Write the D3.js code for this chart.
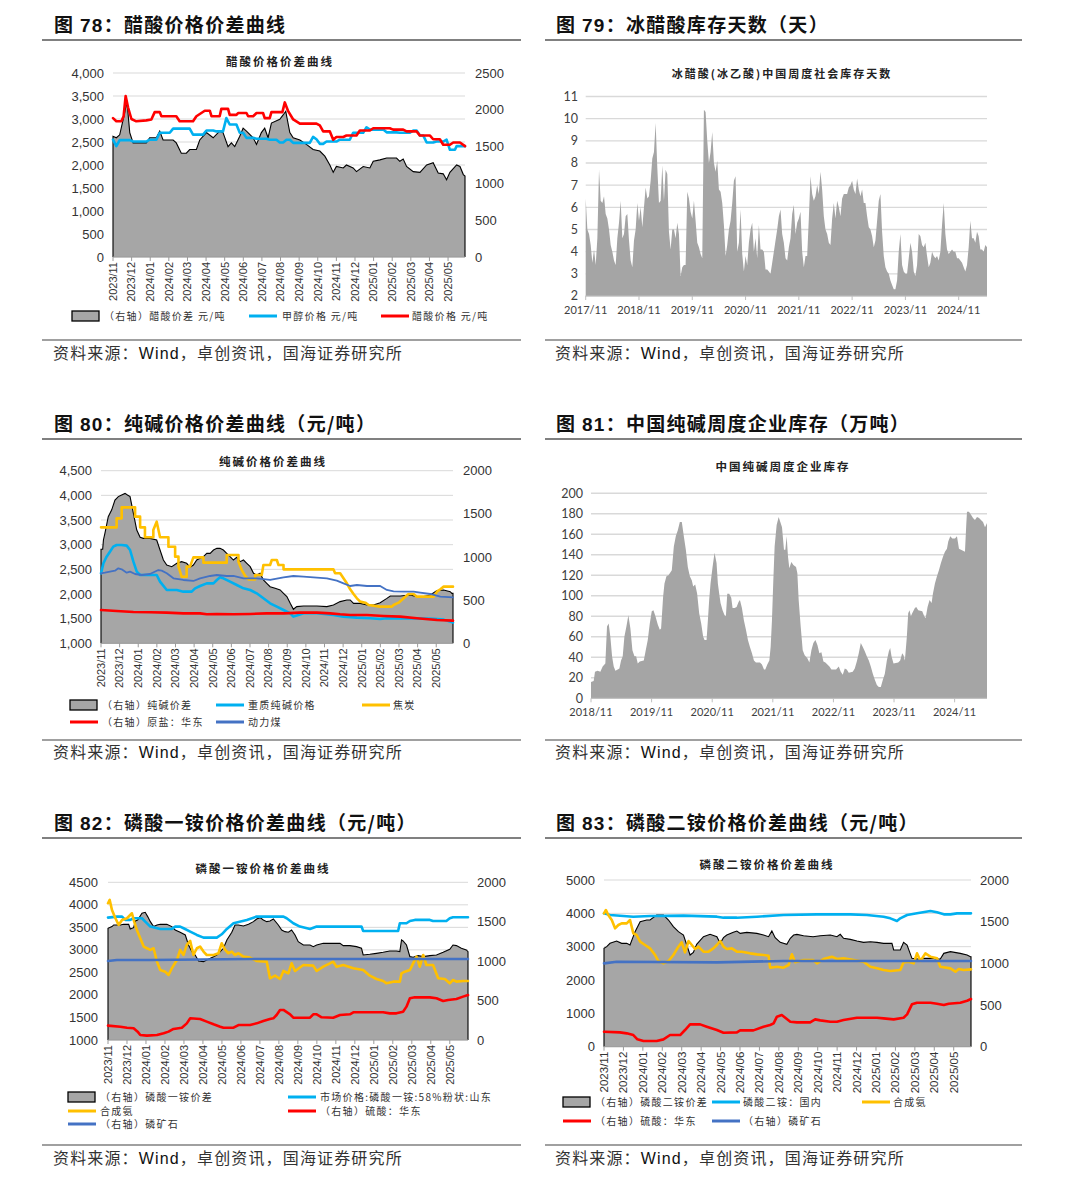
<!DOCTYPE html>
<html><head><meta charset="utf-8">
<script src="https://cdn.jsdelivr.net/npm/d3@7"></script>
<style>body{margin:0;background:#fff;} svg{display:block;}</style>
</head><body>
<script>
// ---------------- DATA ----------------
const monthLabels = ["2023/11","2023/12","2024/01","2024/02","2024/03","2024/04","2024/05","2024/06","2024/07","2024/08","2024/09","2024/10","2024/11","2024/12","2025/01","2025/02","2025/03","2025/04","2025/05"];

// Fig 78 (x = months since 2023/11)
const spread78 = [[0,1640],[0.18,1620],[0.36,1660],[0.63,1960],[0.75,2115],[0.9,1690],[1.08,1550],[1.79,1550],[1.97,1620],[2.33,1620],[2.51,1710],[2.69,1590],[3.23,1590],[3.4,1550],[3.67,1410],[3.94,1410],[4.12,1460],[4.48,1460],[4.66,1590],[5.02,1690],[5.38,1620],[5.73,1710],[5.91,1690],[6.18,1500],[6.36,1550],[6.54,1500],[6.81,1640],[6.99,1750],[7.17,1710],[7.53,1620],[7.71,1530],[7.97,1690],[8.15,1750],[8.33,1620],[8.51,1820],[8.96,1870],[9.14,1930],[9.28,1980],[9.5,1690],[9.68,1620],[10.04,1590],[10.39,1530],[10.75,1460],[11.11,1440],[11.38,1370],[11.65,1250],[11.83,1150],[12.0,1230],[12.37,1210],[12.54,1250],[12.9,1210],[13.08,1160],[13.44,1230],[13.8,1210],[13.98,1300],[14.34,1320],[14.7,1345],[15.23,1345],[15.41,1300],[15.59,1330],[15.77,1230],[16.13,1160],[16.49,1150],[16.85,1250],[17.2,1280],[17.47,1140],[17.74,1130],[17.92,1050],[18.1,1150],[18.46,1250],[18.64,1230],[18.82,1120],[18.91,1100]];
const methanol78 = [[0,2550],[0.18,2410],[0.36,2540],[0.9,2540],[1.08,2510],[1.79,2510],[1.97,2550],[2.33,2550],[2.51,2700],[3.05,2700],[3.23,2790],[4.12,2790],[4.3,2660],[4.84,2660],[5.02,2750],[5.38,2750],[5.56,2730],[5.91,2730],[6.09,3020],[6.27,2880],[6.63,2880],[6.81,2700],[6.99,2700],[7.17,2590],[7.53,2590],[7.71,2570],[8.24,2570],[8.42,2550],[8.78,2550],[8.96,2490],[9.14,2490],[9.32,2550],[9.5,2550],[9.68,2480],[10.57,2480],[10.75,2610],[10.93,2560],[11.11,2460],[11.29,2460],[11.47,2510],[12.0,2510],[12.19,2550],[12.72,2550],[12.9,2700],[13.44,2700],[13.62,2820],[13.8,2770],[14.52,2770],[14.7,2710],[15.23,2710],[15.41,2700],[15.95,2700],[16.13,2750],[16.31,2750],[16.49,2640],[16.67,2640],[16.85,2490],[17.2,2490],[17.38,2510],[17.74,2510],[17.92,2550],[18.1,2330],[18.37,2330],[18.46,2410],[18.91,2410]];
const acetic78 = [[0,3020],[0.18,2950],[0.45,2950],[0.57,3060],[0.68,3500],[0.81,3250],[0.99,3000],[1.25,2950],[1.79,2970],[2.06,2990],[2.24,3150],[2.51,3150],[2.6,3060],[3.4,3060],[3.58,2950],[4.3,2950],[4.48,3060],[4.93,3180],[5.2,3180],[5.29,3060],[5.73,3060],[5.82,3220],[6.18,3220],[6.27,3090],[6.63,3090],[6.72,3130],[7.17,3130],[7.26,3060],[7.53,3060],[7.71,3130],[8.06,3130],[8.15,3020],[8.42,3020],[8.51,3150],[9.1,3150],[9.23,3360],[9.41,3170],[9.68,2990],[10.04,2900],[10.93,2900],[11.11,2860],[11.29,2730],[11.65,2730],[11.83,2550],[12.0,2610],[12.37,2610],[12.54,2640],[13.08,2640],[13.26,2750],[13.8,2750],[13.98,2800],[14.87,2800],[15.05,2770],[15.59,2770],[15.77,2730],[16.31,2730],[16.49,2640],[17.03,2640],[17.2,2560],[17.56,2560],[17.74,2440],[18.1,2440],[18.28,2490],[18.64,2490],[18.91,2410]];
const ticks78L = [0,500,1000,1500,2000,2500,3000,3500,4000];
const ticks78R = [0,500,1000,1500,2000,2500];

// Fig 79 (samples every 0.375 month from 2017/11)
const yearLabels79 = ["2017/11","2018/11","2019/11","2020/11","2021/11","2022/11","2023/11","2024/11"];
const step79 = 0.375;
const days79 = [6.4,5.0,4.8,4.3,3.5,4.1,3.4,4.6,7.7,6.3,
6.2,6.5,5.7,5.5,5.0,4.3,4.0,3.6,3.4,4.6,
5.3,6.3,4.6,4.8,5.6,5.7,4.5,3.6,3.3,4.5,
5.0,6.2,5.4,6.0,5.1,6.0,6.9,6.4,6.5,7.2,
8.2,8.5,9.8,7.8,6.2,6.3,7.9,6.3,7.7,7.5,
4.9,4.1,5.0,5.0,4.6,5.3,4.8,2.9,3.3,3.4,
3.4,6.7,6.4,5.8,5.5,6.3,5.4,4.4,4.2,3.9,
3.7,10.4,10.3,9.0,8.0,8.5,9.4,8.0,7.6,8.1,
6.8,6.7,6.2,5.2,3.8,4.3,5.0,5.4,6.2,7.2,
7.4,4.0,4.4,5.9,3.9,3.1,3.8,3.4,4.4,5.0,
5.3,4.0,4.6,3.7,5.2,4.1,4.1,4.0,3.2,3.2,
3.1,3.0,3.5,4.0,4.5,5.0,5.6,5.9,4.8,4.4,
3.7,3.6,4.2,4.6,5.7,6.1,4.8,5.3,5.5,5.8,
4.0,3.3,3.8,3.8,5.5,7.4,6.6,6.3,6.5,7.0,
6.6,7.6,6.8,5.6,5.0,4.8,4.4,4.3,5.5,6.2,
5.5,6.3,6.0,5.6,6.4,6.6,6.6,6.6,6.9,7.0,
7.2,6.8,6.6,7.3,6.8,6.5,6.8,6.2,6.2,5.6,
5.1,5.0,4.7,4.2,4.5,5.4,6.3,6.6,4.9,3.8,
3.3,3.1,3.0,2.7,2.5,2.3,2.3,2.7,4.0,4.8,
3.4,3.1,3.0,3.0,3.7,4.4,4.0,3.1,2.9,3.4,
4.8,4.7,4.3,4.2,4.4,3.8,3.3,3.5,4.0,3.8,
3.7,3.8,3.6,4.0,5.2,6.2,4.8,4.1,3.9,4.0,
4.1,4.0,4.0,3.7,3.7,3.6,3.5,3.3,3.1,3.4,
4.2,5.4,4.6,4.6,4.4,4.9,4.7,4.1,4.1,4.0,4.3,4.2];
const ticks79 = [2,3,4,5,6,7,8,9,10,11];

// Fig 80
const spread80 = [[0,0],[0,1090],[0.09,1090],[0.13,1197],[0.21,1274],[0.39,1467],[0.57,1544],[0.75,1660],[0.93,1700],[1.11,1718],[1.29,1737],[1.42,1718],[1.56,1700],[1.74,1506],[1.92,1313],[2.1,1228],[2.27,1216],[2.63,1216],[2.99,1197],[3.17,1081],[3.35,965],[3.53,907],[3.8,888],[4.07,927],[4.33,946],[4.6,927],[4.78,880],[4.96,907],[5.14,965],[5.32,985],[5.5,1004],[5.68,1042],[5.86,1042],[6.04,1081],[6.22,1100],[6.39,1100],[6.57,1081],[6.75,1042],[6.93,1004],[7.11,965],[7.29,996],[7.47,946],[7.65,965],[7.83,927],[8.01,888],[8.19,811],[8.36,792],[8.54,811],[8.72,734],[8.9,695],[9.08,656],[9.35,637],[9.62,618],[9.8,579],[9.98,541],[10.16,463],[10.33,394],[10.51,425],[10.87,432],[11.59,432],[12.13,425],[12.48,444],[12.84,483],[13.2,502],[13.38,502],[13.56,463],[13.92,463],[14.28,444],[14.63,444],[14.99,471],[15.35,521],[15.53,548],[16.07,548],[16.6,560],[16.96,541],[17.32,541],[17.68,560],[18.04,610],[18.4,618],[18.75,598],[18.84,579],[18.9,579],[18.9,0]];
const sodaAsh80 = [[0,2419],[0.13,2622],[0.3,2757],[0.48,2858],[0.66,2960],[0.84,2993],[1.11,2993],[1.38,2980],[1.56,2892],[1.74,2655],[1.92,2453],[2.1,2385],[2.99,2385],[3.17,2250],[3.53,2081],[4.07,2081],[4.42,2047],[4.87,2047],[5.05,2115],[5.32,2162],[5.68,2216],[6.04,2216],[6.22,2284],[6.39,2338],[6.57,2318],[6.93,2250],[7.29,2182],[7.65,2115],[8.01,2081],[8.36,2014],[8.72,1912],[9.08,1811],[9.44,1743],[9.8,1676],[10.16,1608],[10.33,1541],[10.6,1574],[10.87,1608],[11.59,1608],[12.48,1574],[13.02,1541],[13.74,1520],[14.45,1507],[14.99,1493],[15.35,1507],[16.07,1505],[16.96,1505],[17.86,1495],[18.4,1480],[18.9,1419]];
const coke80 = [[0,3351],[0.84,3351],[0.84,3534],[1.11,3534],[1.11,3757],[1.83,3757],[1.83,3568],[2.1,3568],[2.1,3351],[2.36,3351],[2.36,3149],[2.81,3149],[2.81,3297],[2.99,3466],[3.17,3149],[3.62,3149],[3.62,2959],[3.98,2959],[3.98,2757],[4.16,2757],[4.16,2554],[4.33,2351],[4.6,2351],[4.6,2554],[4.78,2554],[4.96,2743],[5.5,2743],[5.5,2635],[6.75,2635],[6.75,2791],[7.38,2791],[7.38,2655],[7.56,2486],[7.74,2365],[7.92,2297],[8.28,2297],[8.28,2385],[8.63,2385],[8.72,2588],[9.08,2588],[9.17,2689],[9.44,2689],[9.53,2588],[9.8,2588],[9.8,2500],[12.48,2500],[12.57,2419],[12.84,2419],[13.02,2318],[13.2,2216],[13.38,2095],[13.56,2000],[13.74,1912],[13.92,1845],[14.19,1824],[14.37,1777],[14.99,1743],[15.62,1743],[15.71,1777],[15.98,1824],[16.25,1912],[16.51,2000],[16.78,2000],[16.96,1946],[17.86,1946],[18.04,2047],[18.22,2095],[18.4,2149],[18.9,2149]];
const coal80 = [[0,2419],[0.21,2432],[0.48,2453],[0.75,2473],[0.93,2520],[1.11,2500],[1.38,2432],[1.56,2453],[1.83,2405],[2.19,2385],[2.63,2405],[3.08,2486],[3.26,2473],[3.53,2419],[3.89,2318],[4.42,2284],[4.96,2264],[5.32,2318],[5.86,2365],[6.22,2385],[6.75,2365],[7.11,2365],[7.65,2318],[8.36,2318],[9.08,2284],[9.8,2338],[10.33,2365],[10.87,2351],[11.59,2331],[12.13,2318],[12.66,2270],[13.02,2216],[13.38,2162],[13.74,2182],[14.28,2162],[14.99,2162],[15.35,2081],[15.71,2054],[16.25,2047],[16.78,2047],[17.14,2027],[17.68,2000],[18.22,1946],[18.9,1932]];
const salt80 = [[0,386],[0.84,375],[1.74,363],[2.63,359],[3.53,355],[4.42,347],[5.32,347],[5.68,336],[6.22,340],[7.11,336],[8.01,340],[8.9,347],[9.8,347],[10.69,355],[11.59,355],[12.31,347],[12.84,336],[13.38,328],[14.28,328],[15.17,317],[16.07,309],[16.96,290],[18.04,270],[18.9,263]];
const ticks80L = [1000,1500,2000,2500,3000,3500,4000,4500];
const ticks80R = [0,500,1000,1500,2000];

// Fig 81 (x = months since 2018/11)
const yearLabels81 = ["2018/11","2019/11","2020/11","2021/11","2022/11","2023/11","2024/11"];
const inv81 = [[0,16],[0.53,17],[0.79,26],[1.32,27],[1.85,26],[2.31,31],[2.84,34],[3.17,70],[3.5,73],[3.83,60],[4.17,41],[4.5,31],[4.83,27],[5.29,28],[5.62,29],[5.95,37],[6.28,41],[6.61,60],[7.01,70],[7.4,81],[7.8,68],[8.2,47],[8.6,41],[8.93,41],[9.26,34],[9.65,36],[10.45,37],[10.84,47],[11.24,57],[11.64,73],[12.03,85],[12.36,86],[12.76,80],[13.22,72],[13.62,67],[13.88,68],[14.28,99],[14.55,112],[14.94,119],[15.34,120],[15.74,123],[16.0,125],[16.4,148],[16.79,158],[17.19,164],[17.59,172],[17.98,172],[18.38,158],[18.78,145],[19.17,128],[19.57,119],[19.97,115],[20.23,109],[20.63,111],[21.02,102],[21.42,83],[21.82,73],[22.21,60],[22.48,57],[22.88,57],[23.14,76],[23.4,96],[23.67,112],[24.07,128],[24.46,142],[24.86,132],[25.12,112],[25.39,102],[25.65,93],[26.05,86],[26.45,81],[26.71,80],[26.98,102],[27.37,102],[27.77,98],[28.03,88],[28.43,88],[28.83,89],[29.22,94],[29.49,96],[29.88,88],[30.28,76],[30.68,67],[31.07,57],[31.47,50],[31.87,44],[32.26,37],[32.66,35],[33.45,35],[33.85,33],[34.25,28],[34.51,28],[34.91,33],[35.31,37],[35.57,50],[35.83,76],[36.1,115],[36.36,148],[36.76,169],[37.16,177],[37.55,171],[37.82,167],[38.21,145],[38.48,145],[38.74,158],[39.01,138],[39.27,127],[39.67,133],[40.07,130],[40.6,128],[40.86,122],[41.12,96],[41.52,70],[41.92,47],[42.31,42],[42.84,39],[43.24,35],[43.64,47],[44.03,54],[44.43,57],[44.83,52],[45.22,44],[45.62,45],[46.02,36],[46.41,35],[46.81,33],[47.21,31],[47.6,28],[48.53,28],[49.06,31],[49.45,26],[49.85,23],[50.25,29],[50.64,28],[51.04,25],[51.83,26],[52.23,29],[52.63,36],[53.02,44],[53.42,54],[53.82,50],[54.21,46],[54.61,41],[55.01,37],[55.4,31],[55.8,24],[56.2,18],[56.6,13],[56.99,11],[57.39,11],[57.79,18],[58.18,24],[58.58,37],[58.98,46],[59.24,49],[59.5,41],[59.9,34],[60.83,35],[61.22,37],[61.62,44],[61.88,42],[62.15,37],[62.54,60],[62.81,83],[63.07,86],[63.34,80],[63.6,83],[64.13,88],[64.4,89],[64.79,86],[65.59,85],[65.98,80],[66.25,78],[66.64,89],[67.04,96],[67.44,93],[67.7,102],[68.1,112],[68.5,119],[68.89,125],[69.29,132],[69.69,138],[70.08,143],[70.48,146],[70.74,153],[71.14,158],[71.54,156],[72.07,156],[72.46,158],[72.86,146],[73.26,145],[74.05,143],[74.31,170],[74.45,182],[74.84,182],[75.24,179],[75.64,176],[76.03,174],[76.43,177],[76.83,176],[77.22,174],[77.62,172],[78.02,167],[78.41,171]];
const ticks81 = [0,20,40,60,80,100,120,140,160,180,200];

// Fig 82
const spread82 = [[0,0],[0,1416],[0.21,1438],[0.3,1459],[0.65,1459],[0.82,1467],[1.09,1467],[1.17,1408],[1.35,1425],[1.44,1510],[1.56,1522],[1.79,1607],[1.96,1619],[2.09,1565],[2.23,1501],[2.4,1438],[2.58,1459],[2.75,1467],[3.1,1467],[3.36,1438],[3.54,1395],[3.8,1366],[4.07,1332],[4.24,1205],[4.42,1121],[4.59,1078],[4.77,1002],[5.03,994],[5.2,1015],[5.56,1057],[5.73,1078],[5.91,1121],[6.08,1163],[6.26,1268],[6.52,1366],[6.69,1459],[6.87,1459],[7.13,1446],[7.4,1467],[7.66,1501],[7.83,1535],[8.01,1552],[8.18,1522],[8.36,1501],[8.53,1510],[8.71,1535],[8.97,1459],[9.15,1395],[9.32,1374],[9.5,1366],[9.67,1395],[9.85,1332],[10.02,1247],[10.29,1205],[10.64,1205],[10.81,1184],[10.99,1205],[11.34,1226],[12.22,1226],[12.39,1197],[12.74,1197],[13.09,1184],[13.35,1163],[13.44,1078],[13.79,1087],[14.14,1099],[14.49,1112],[14.84,1129],[15.19,1129],[15.37,1121],[15.46,1268],[15.54,1256],[15.72,1205],[15.9,1057],[16.07,1049],[16.33,1070],[16.6,1057],[16.95,1070],[17.3,1078],[17.65,1112],[18.0,1150],[18.17,1205],[18.35,1197],[18.61,1163],[18.87,1142],[18.96,1121],[18.96,0]];
const map82 = [[0,3716],[0.47,3739],[0.74,3739],[0.91,3665],[1.17,3665],[1.35,3702],[1.79,3702],[1.96,3628],[2.23,3517],[2.75,3465],[3.36,3465],[3.54,3517],[3.8,3517],[3.98,3480],[4.33,3406],[4.68,3332],[5.03,3272],[5.73,3272],[5.99,3346],[6.26,3465],[6.61,3591],[7.31,3665],[7.83,3739],[9.24,3739],[9.41,3702],[9.76,3591],[10.11,3517],[10.64,3465],[10.99,3517],[13.35,3517],[13.44,3420],[15.28,3420],[15.37,3591],[15.72,3591],[15.9,3642],[16.16,3665],[16.95,3665],[17.12,3642],[17.82,3642],[18.0,3702],[18.17,3724],[18.96,3724]];
const ammonia82 = [[0,4035],[0.09,4109],[0.21,3887],[0.39,3702],[0.56,3554],[0.74,3665],[1.0,3702],[1.26,3813],[1.38,3628],[1.52,3443],[1.7,3258],[1.88,3073],[2.05,3036],[2.23,2999],[2.4,3036],[2.58,2739],[2.75,2554],[3.01,2517],[3.19,2443],[3.36,2591],[3.63,2776],[3.8,2999],[3.98,2887],[4.15,3110],[4.33,3199],[4.5,2887],[4.68,3036],[4.85,3073],[5.03,2962],[5.2,2887],[5.56,2887],[5.82,2925],[5.99,3147],[6.17,2999],[6.34,2925],[6.52,2962],[6.69,2887],[6.87,2925],[7.13,2851],[7.48,2828],[7.83,2754],[8.36,2739],[8.53,2369],[8.8,2428],[9.06,2354],[9.24,2532],[9.5,2480],[9.67,2702],[9.85,2532],[10.29,2665],[10.81,2651],[10.99,2532],[11.34,2628],[11.69,2702],[11.86,2739],[12.04,2628],[12.39,2665],[12.92,2591],[13.44,2554],[13.79,2428],[14.14,2354],[14.49,2310],[14.67,2258],[15.02,2295],[15.37,2295],[15.46,2480],[15.63,2517],[15.9,2554],[16.07,2702],[16.25,2851],[16.42,2628],[16.6,2887],[16.77,2665],[17.12,2665],[17.39,2369],[17.74,2354],[18.0,2258],[18.17,2332],[18.35,2295],[18.7,2310],[18.96,2310]];
const rock82 = [[0,1002],[0.47,1015],[2.23,1015],[7.48,1027],[12.74,1027],[18.96,1027]];
const acid82 = [[0,182],[0.65,169],[1.0,156],[1.35,148],[1.56,106],[1.7,63],[2.05,55],[2.58,63],[2.93,85],[3.19,106],[3.45,140],[3.89,156],[4.15,211],[4.33,275],[4.85,266],[5.2,233],[5.56,199],[5.91,169],[6.08,156],[6.61,156],[6.87,190],[7.48,190],[7.83,211],[8.18,241],[8.53,266],[8.71,275],[8.88,317],[9.06,381],[9.24,381],[9.59,326],[9.76,283],[10.64,283],[10.81,326],[10.99,326],[11.25,288],[11.86,283],[12.22,317],[12.74,326],[12.92,351],[14.49,351],[14.84,338],[15.19,338],[15.54,359],[15.72,423],[15.9,529],[16.16,541],[16.95,541],[17.3,529],[17.65,495],[17.91,507],[18.35,520],[18.7,550],[18.96,571]];
const ticks82L = [1000,1500,2000,2500,3000,3500,4000,4500];
const ticks82R = [0,500,1000,1500,2000];

// Fig 83
const spread83 = [[0,0],[0,1180],[0.14,1200],[0.31,1240],[0.65,1268],[0.91,1240],[1.17,1240],[1.34,1220],[1.6,1380],[1.86,1500],[2.2,1520],[2.37,1520],[2.71,1580],[3.06,1580],[3.32,1520],[3.57,1440],[3.83,1380],[4.09,1340],[4.26,1220],[4.43,1100],[4.6,1132],[4.77,1228],[5.12,1320],[5.46,1348],[5.81,1320],[5.98,1240],[6.15,1308],[6.32,1340],[6.66,1372],[6.84,1388],[7.01,1360],[7.35,1372],[7.87,1360],[8.21,1340],[8.47,1320],[8.64,1388],[8.81,1308],[9.07,1252],[9.41,1228],[9.59,1300],[9.76,1340],[9.93,1348],[10.27,1332],[10.76,1320],[11.13,1332],[11.65,1340],[11.99,1320],[12.16,1348],[12.33,1300],[12.68,1288],[13.02,1268],[13.36,1252],[13.71,1260],[14.05,1252],[14.39,1240],[14.82,1240],[14.91,1160],[15.25,1160],[15.42,1252],[15.6,1220],[15.85,1060],[16.11,1052],[16.45,1060],[16.97,1060],[17.14,1052],[17.31,1052],[17.49,1120],[17.83,1140],[18.34,1120],[18.69,1100],[18.86,1080],[18.89,1080],[18.89,0]];
const dap83 = [[0,4000],[0.31,3950],[1.0,3920],[1.51,3900],[2.37,3920],[4.09,3930],[5.81,3900],[6.15,3870],[6.84,3870],[7.87,3900],[9.24,3950],[10.96,3970],[12.68,3970],[13.53,3950],[14.39,3900],[14.74,3850],[15.08,3770],[15.25,3850],[15.6,3950],[16.11,4000],[16.8,4070],[17.14,4030],[17.49,3970],[17.83,3970],[18.17,4000],[18.89,4000]];
const ammonia83 = [[0,4000],[0.1,4100],[0.22,3950],[0.4,3800],[0.57,3550],[0.74,3650],[0.91,3700],[1.17,3700],[1.34,3800],[1.51,3400],[1.68,3350],[1.86,3150],[2.11,3050],[2.37,2950],[2.63,2750],[2.8,2570],[3.06,2500],[3.32,2570],[3.57,2750],[3.83,3000],[4.0,3130],[4.17,2830],[4.35,3170],[4.52,3050],[4.69,2930],[4.86,3000],[5.12,2850],[5.38,2850],[5.63,2950],[5.81,3050],[5.98,3170],[6.15,3000],[6.32,2930],[6.58,2950],[6.84,2850],[7.09,2850],[7.52,2800],[7.87,2770],[8.21,2750],[8.47,2730],[8.55,2370],[8.9,2400],[9.24,2370],[9.5,2450],[9.67,2770],[9.84,2530],[10.27,2600],[10.76,2600],[10.96,2500],[11.3,2630],[11.73,2700],[11.99,2630],[12.33,2650],[12.85,2600],[13.36,2550],[13.71,2400],[14.05,2350],[14.39,2300],[14.74,2270],[15.25,2300],[15.42,2530],[15.68,2550],[15.94,2500],[16.11,2800],[16.29,2570],[16.54,2800],[16.8,2700],[17.14,2650],[17.31,2400],[17.83,2350],[18.09,2250],[18.26,2330],[18.52,2300],[18.89,2320]];
const rock83 = [[0,1000],[0.65,1020],[5.81,1012],[9.24,1028],[14.39,1028],[18.89,1028]];
const acid83 = [[0,180],[0.82,172],[1.17,160],[1.51,140],[1.72,88],[2.03,68],[2.71,68],[3.06,88],[3.4,140],[3.92,140],[4.17,200],[4.43,268],[4.95,268],[5.29,240],[5.81,200],[6.15,168],[6.84,172],[7.01,196],[7.69,196],[8.21,240],[8.55,260],[8.73,280],[8.9,360],[9.15,380],[9.59,300],[9.93,292],[10.61,292],[10.87,328],[11.13,316],[11.65,300],[11.99,300],[12.33,320],[13.02,348],[14.05,348],[14.39,340],[14.91,328],[15.42,348],[15.6,388],[15.85,508],[16.11,528],[16.8,528],[17.14,516],[17.49,500],[17.74,516],[18.34,528],[18.69,552],[18.89,572]];
const ticks83L = [0,1000,2000,3000,4000,5000];
const ticks83R = [0,500,1000,1500,2000];

// ---------------- DRAWING ----------------
const CJK = '"Noto Sans CJK SC","Noto Sans",sans-serif';
const NUM = '"Liberation Sans",Arial,sans-serif';
const CAL = 'Lato,"Liberation Sans",sans-serif';
const C = {gray:"#a6a6a6", cyan:"#00b0f0", red:"#ff0000", yellow:"#ffc000", blue:"#4472c4", grid:"#d9d9d9"};

const svg = d3.select("body").append("svg").attr("width",1080).attr("height",1189);

function header(x, y, num, title) {
  const t = svg.append("text").attr("x", x).attr("y", y).attr("font-family", CJK)
    .attr("font-size", 19).attr("font-weight", 700).attr("fill", "#111").attr("letter-spacing", 1.3);
  t.append("tspan").text("图 ");
  t.append("tspan").attr("font-family", NUM).text(num);
  t.append("tspan").text("：" + title);
}
function rule(x1, x2, y, w) {
  svg.append("line").attr("x1", x1).attr("x2", x2).attr("y1", y).attr("y2", y)
    .attr("stroke", "#808080").attr("stroke-width", w);
}
function source(x, y) {
  const t = svg.append("text").attr("x", x).attr("y", y).attr("font-family", CJK)
    .attr("font-size", 16).attr("fill", "#333").attr("letter-spacing", 1.15);
  t.append("tspan").text("资料来源：");
  t.append("tspan").attr("font-family", NUM).attr("fill","#111").text("Wind");
  t.append("tspan").text("，卓创资讯，国海证券研究所");
}
function chartTitle(x, y, s, size) {
  svg.append("text").attr("x", x).attr("y", y).attr("dy", "0.35em").attr("text-anchor", "middle")
    .attr("font-family", CJK).attr("font-weight", 700).attr("font-size", size || 11.5)
    .attr("letter-spacing", 2).attr("fill", "#222").text(s);
}
function legend(items) {
  items.forEach(it => {
    if (it.kind === "area") {
      svg.append("rect").attr("x", it.x).attr("y", it.y - 5).attr("width", 27).attr("height", 10)
        .attr("fill", C.gray).attr("stroke", "#000").attr("stroke-width", 1.3);
    } else {
      svg.append("line").attr("x1", it.x).attr("x2", it.x + 28).attr("y1", it.y).attr("y2", it.y)
        .attr("stroke", it.color).attr("stroke-width", 3);
    }
    svg.append("text").attr("x", it.tx).attr("y", it.y).attr("dy", "0.35em")
      .attr("font-family", CJK).attr("font-size", 10).attr("letter-spacing", 1.3)
      .attr("fill", "#333").text(it.label);
  });
}

function dualChart(c) {
  const g = svg.append("g");
  const x = d3.scaleLinear().domain([0, c.xMax]).range([c.x0, c.x1]);
  const yL = d3.scaleLinear().domain(c.lDom).range([c.y1, c.y0]);
  const yR = d3.scaleLinear().domain(c.rDom).range([c.y1, c.y0]);
  g.selectAll(null).data(c.lTicks).join("line")
    .attr("x1", c.x0).attr("x2", c.x1).attr("y1", d => yL(d)).attr("y2", d => yL(d))
    .attr("stroke", C.grid).attr("stroke-width", 1);
  g.selectAll(null).data(c.lTicks).join("text")
    .attr("x", c.lLabelX).attr("y", d => yL(d)).attr("dy", "0.35em").attr("text-anchor", "end")
    .attr("font-family", NUM).attr("font-size", c.fs).attr("fill", "#333").text(c.lFmt);
  g.selectAll(null).data(c.rTicks).join("text")
    .attr("x", c.rLabelX).attr("y", d => yR(d)).attr("dy", "0.35em").attr("text-anchor", "start")
    .attr("font-family", NUM).attr("font-size", c.fs).attr("fill", "#333").text(d => d);
  g.append("path").datum(c.area)
    .attr("d", d3.area().x(d => x(d[0])).y0(yR(0)).y1(d => yR(d[1])))
    .attr("fill", C.gray);
  g.append("path").datum(c.area)
    .attr("d", d3.line().x(d => x(d[0])).y(d => yR(d[1])))
    .attr("fill", "none").attr("stroke", "#000").attr("stroke-width", 1.1);
  g.append("line").attr("x1", c.x0).attr("x2", c.x1).attr("y1", c.y1).attr("y2", c.y1)
    .attr("stroke", "#9a9a9a").attr("stroke-width", 1);
  g.selectAll(null).data(c.months).join("line")
    .attr("x1", (d, i) => x(i)).attr("x2", (d, i) => x(i)).attr("y1", c.y1).attr("y2", c.y1 + 4)
    .attr("stroke", "#9a9a9a");
  c.lines.forEach(l => {
    const ys = l.axis === "R" ? yR : yL;
    g.append("path").datum(l.data)
      .attr("d", d3.line().x(d => x(d[0])).y(d => ys(d[1])))
      .attr("fill", "none").attr("stroke", l.color).attr("stroke-width", l.w)
      .attr("stroke-linejoin", "round").attr("stroke-linecap", "round");
  });
  g.selectAll(null).data(c.months).join("text")
    .attr("transform", (d, i) => `translate(${x(i)},${c.y1 + 5}) rotate(-90)`)
    .attr("dy", "0.35em").attr("text-anchor", "end")
    .attr("font-family", NUM).attr("font-size", c.xfs).attr("fill", "#333").text(d => d);
}

function areaChart(c) {
  const g = svg.append("g");
  const x = d3.scaleLinear().domain([0, c.xMax]).range([c.x0, c.x1]);
  const y = d3.scaleLinear().domain(c.yDom).range([c.y1, c.y0]);
  g.selectAll(null).data(c.yTicks).join("line")
    .attr("x1", c.x0).attr("x2", c.x1).attr("y1", d => y(d)).attr("y2", d => y(d))
    .attr("stroke", C.grid).attr("stroke-width", 1.4);
  g.selectAll(null).data(c.yTicks).join("text")
    .attr("x", c.labelX).attr("y", d => y(d)).attr("dy", "0.35em").attr("text-anchor", "end")
    .attr("font-family", CAL).attr("font-size", 12.5).attr("fill", "#404040").text(d => d);
  g.append("path").datum(c.data)
    .attr("d", d3.area().x(d => x(d[0])).y0(y(c.yDom[0])).y1(d => y(d[1])))
    .attr("fill", "#a5a5a5");
  g.append("line").attr("x1", c.x0).attr("x2", c.x1).attr("y1", c.y1).attr("y2", c.y1)
    .attr("stroke", "#bfbfbf").attr("stroke-width", 1);
  g.selectAll(null).data(c.xLabels).join("line")
    .attr("x1", (d, i) => x(i * 12)).attr("x2", (d, i) => x(i * 12))
    .attr("y1", c.y1).attr("y2", c.y1 + 4).attr("stroke", "#bfbfbf");
  g.selectAll(null).data(c.xLabels).join("text")
    .attr("x", (d, i) => x(i * 12)).attr("y", c.xLabelY).attr("dy", "0.35em").attr("text-anchor", "middle")
    .attr("font-family", CAL).attr("font-size", 11).attr("fill", "#404040").text(d => d);
}

// ---- page frame ----
header(54, 32, "78", "醋酸价格价差曲线");
header(556, 32, "79", "冰醋酸库存天数（天）");
header(54, 431, "80", "纯碱价格价差曲线（元/吨）");
header(556, 431, "81", "中国纯碱周度企业库存（万吨）");
header(54, 830, "82", "磷酸一铵价格价差曲线（元/吨）");
header(556, 830, "83", "磷酸二铵价格价差曲线（元/吨）");
[[40,1.8],[340,1.4],[439,1.8],[740,1.4],[838,1.8],[1145,1.4]].forEach(([y,w]) => { rule(42, 521, y, w); rule(545, 1022, y, w); });
[359, 758, 1164].forEach(y => { source(53, y); source(555, y); });

// ---- Fig 78 ----
chartTitle(280, 62, "醋酸价格价差曲线");
dualChart({x0:113, x1:465, y0:73, y1:257, xMax:18.91, lDom:[0,4000], rDom:[0,2500],
  lTicks:ticks78L, rTicks:ticks78R, lFmt:d3.format(","), lLabelX:104, rLabelX:475, fs:13, xfs:11,
  months:monthLabels, area:[[0,0],...spread78,[18.91,0]],
  lines:[{data:methanol78, axis:"L", color:C.cyan, w:2.6},{data:acetic78, axis:"L", color:C.red, w:2.6}]});
legend([
  {kind:"area", x:72, y:316, tx:104, label:"（右轴）醋酸价差 元/吨"},
  {kind:"line", x:249, y:316, tx:282, color:C.cyan, label:"甲醇价格 元/吨"},
  {kind:"line", x:381, y:316, tx:412, color:C.red, label:"醋酸价格 元/吨"}]);

// ---- Fig 79 ----
chartTitle(782, 74, "冰醋酸(冰乙酸)中国周度社会库存天数", 11);
areaChart({x0:585.7, x1:987, y0:96.5, y1:296, xMax:(days79.length-1)*step79, yDom:[2,11], yTicks:ticks79,
  labelX:578, xLabels:yearLabels79, xLabelY:310,
  data:days79.map((v,i) => [i*step79, v])});

// ---- Fig 80 ----
chartTitle(273, 462, "纯碱价格价差曲线");
dualChart({x0:101, x1:453, y0:470.7, y1:643.3, xMax:18.9, lDom:[1000,4500], rDom:[0,2000],
  lTicks:ticks80L, rTicks:ticks80R, lFmt:d3.format(","), lLabelX:92, rLabelX:463, fs:13, xfs:11,
  months:monthLabels, area:spread80,
  lines:[{data:sodaAsh80, axis:"L", color:C.cyan, w:2.6},{data:coke80, axis:"L", color:C.yellow, w:2.6},
         {data:salt80, axis:"R", color:C.red, w:2.6},{data:coal80, axis:"L", color:C.blue, w:1.8}]});
legend([
  {kind:"area", x:70, y:705, tx:102, label:"（右轴）纯碱价差"},
  {kind:"line", x:216, y:705, tx:248, color:C.cyan, label:"重质纯碱价格"},
  {kind:"line", x:362, y:705, tx:393, color:C.yellow, label:"焦炭"},
  {kind:"line", x:70, y:722, tx:102, color:C.red, label:"（右轴）原盐：华东"},
  {kind:"line", x:216, y:722, tx:248, color:C.blue, label:"动力煤"}]);

// ---- Fig 81 ----
chartTitle(783, 467, "中国纯碱周度企业库存", 11.5);
areaChart({x0:591, x1:987, y0:493.3, y1:698.3, xMax:78.41, yDom:[0,200], yTicks:ticks81,
  labelX:583, xLabels:yearLabels81, xLabelY:712, data:inv81});

// ---- Fig 82 ----
chartTitle(263, 869, "磷酸一铵价格价差曲线");
dualChart({x0:108, x1:468, y0:882.3, y1:1040, xMax:18.96, lDom:[1000,4500], rDom:[0,2000],
  lTicks:ticks82L, rTicks:ticks82R, lFmt:d => d, lLabelX:98, rLabelX:477, fs:13, xfs:11,
  months:monthLabels, area:spread82,
  lines:[{data:map82, axis:"L", color:C.cyan, w:2.6},{data:ammonia82, axis:"L", color:C.yellow, w:2.6},
         {data:acid82, axis:"R", color:C.red, w:2.6},{data:rock82, axis:"R", color:C.blue, w:2.6}]});
legend([
  {kind:"area", x:68, y:1097, tx:100, label:"（右轴）磷酸一铵价差"},
  {kind:"line", x:288, y:1097, tx:320, color:C.cyan, label:"市场价格:磷酸一铵:58%粉状:山东"},
  {kind:"line", x:68, y:1111, tx:100, color:C.yellow, label:"合成氨"},
  {kind:"line", x:288, y:1111, tx:320, color:C.red, label:"（右轴）硫酸：华东"},
  {kind:"line", x:68, y:1124, tx:100, color:C.blue, label:"（右轴）磷矿石"}]);

// ---- Fig 83 ----
chartTitle(767, 865, "磷酸二铵价格价差曲线");
dualChart({x0:604, x1:971, y0:880, y1:1046.7, xMax:18.89, lDom:[0,5000], rDom:[0,2000],
  lTicks:ticks83L, rTicks:ticks83R, lFmt:d => d, lLabelX:595, rLabelX:980, fs:13, xfs:11.5,
  months:monthLabels, area:spread83,
  lines:[{data:dap83, axis:"L", color:C.cyan, w:2.6},{data:ammonia83, axis:"L", color:C.yellow, w:2.6},
         {data:acid83, axis:"R", color:C.red, w:2.6},{data:rock83, axis:"R", color:C.blue, w:2.6}]});
legend([
  {kind:"area", x:563, y:1102, tx:595, label:"（右轴）磷酸二铵价差"},
  {kind:"line", x:712, y:1102, tx:743, color:C.cyan, label:"磷酸二铵：国内"},
  {kind:"line", x:862, y:1102, tx:893, color:C.yellow, label:"合成氨"},
  {kind:"line", x:563, y:1121, tx:595, color:C.red, label:"（右轴）硫酸：华东"},
  {kind:"line", x:712, y:1121, tx:743, color:C.blue, label:"（右轴）磷矿石"}]);
</script>
</body></html>
